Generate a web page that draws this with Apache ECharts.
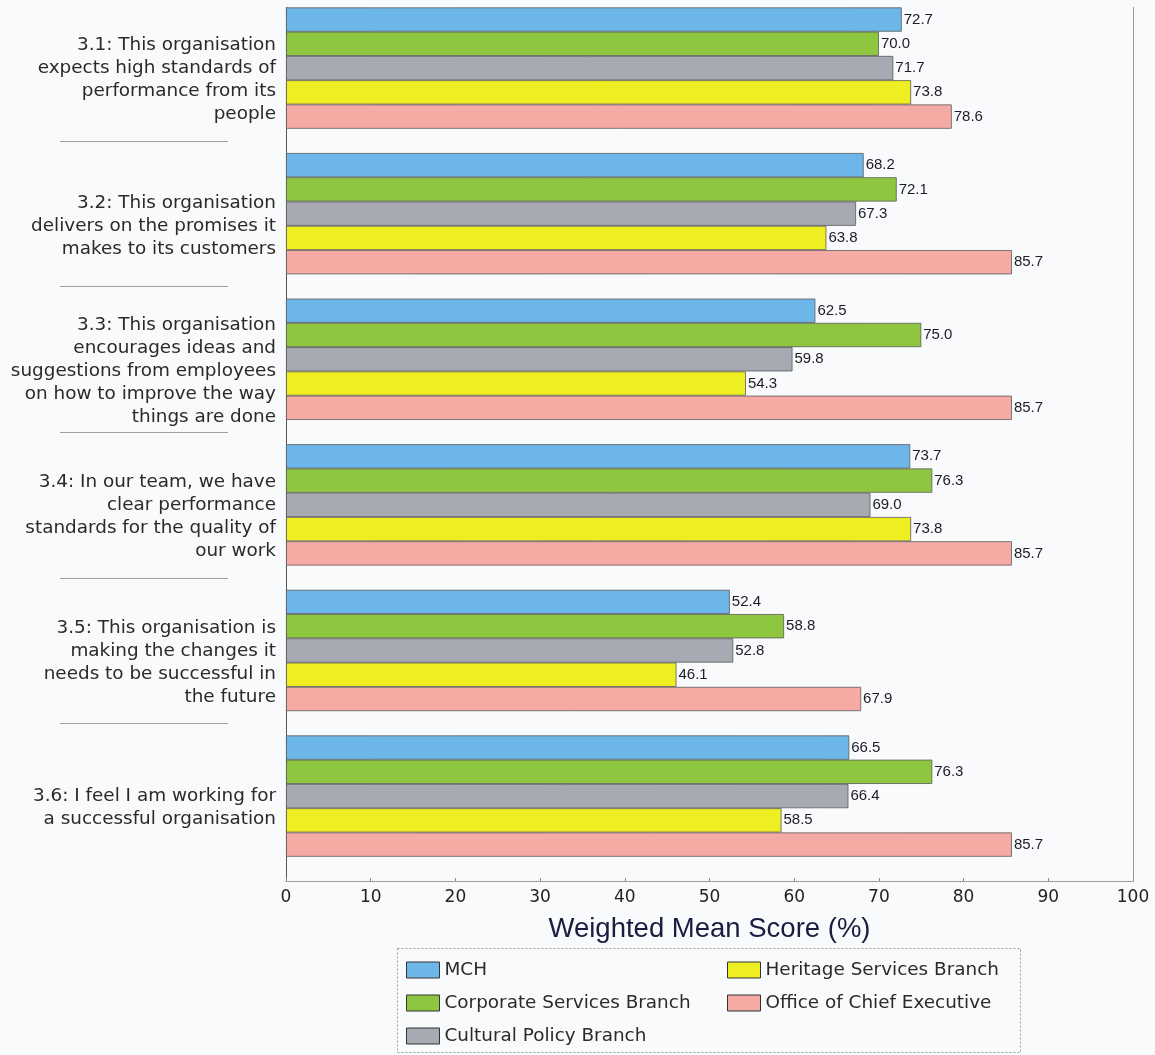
<!DOCTYPE html>
<html><head><meta charset="utf-8">
<script src="https://cdn.jsdelivr.net/npm/echarts@6/dist/echarts.min.js"></script>
<style>html,body{margin:0;padding:0;background:#f8fafb}#c{width:1155px;height:1055px}</style>
</head><body><div id="c"></div>
<script>
const categories = [
  "3.1: This organisation\nexpects high standards of\nperformance from its\npeople",
  "3.2: This organisation\ndelivers on the promises it\nmakes to its customers",
  "3.3: This organisation\nencourages ideas and\nsuggestions from employees\non how to improve the way\nthings are done",
  "3.4: In our team, we have\nclear performance\nstandards for the quality of\nour work",
  "3.5: This organisation is\nmaking the changes it\nneeds to be successful in\nthe future",
  "3.6: I feel I am working for\na successful organisation"
];
const seriesNames = ["MCH", "Corporate Services Branch", "Cultural Policy Branch", "Heritage Services Branch", "Office of Chief Executive"];
const mch       = [72.7, 68.2, 62.5, 73.7, 52.4, 66.5];
const corporate = [70.0, 72.1, 75.0, 76.3, 58.8, 76.3];
const cultural  = [71.7, 67.3, 59.8, 69.0, 52.8, 66.4];
const heritage  = [73.8, 63.8, 54.3, 73.8, 46.1, 58.5];
const office    = [78.6, 85.7, 85.7, 85.7, 67.9, 85.7];
const xTicks = [0, 10, 20, 30, 40, 50, 60, 70, 80, 90, 100];

const colors = ["#6cb6ea", "#8fc640", "#a7aab2", "#eeee22", "#f6aaa4"];
const values = [mch, corporate, cultural, heritage, office];
const FONT = "DejaVu Sans";

const chart = echarts.init(document.getElementById('c'));
const series = values.map((v, i) => ({
  name: seriesNames[i], type: 'bar', data: v,
  barGap: 0, barCategoryGap: 0,
  itemStyle: { color: colors[i], borderColor: '#5a5a5a', borderWidth: 0.8 },
  label: { show: true, position: 'right', distance: 2, formatter: p => p.value.toFixed(1),
           fontFamily: 'Liberation Sans', fontSize: 15, color: '#1c1c28' }
}));
// empty slot to leave the gap below each group
series.push({ name: '_gap', type: 'bar', data: categories.map(() => null), barGap: 0, barCategoryGap: 0, silent: true });

const legendCommon = {
  orient: 'vertical', top: 961, height: 92, padding: 0,
  icon: 'rect', itemWidth: 33, itemHeight: 16, itemGap: 15,
  textStyle: { fontFamily: FONT, fontSize: 18.4, color: '#2a2a2a', lineHeight: 18 },
  itemStyle: { borderColor: '#333', borderWidth: 1 }
};

chart.setOption({
  backgroundColor: '#f8fafb',
  animation: false,
  color: colors,
  grid: { left: 286, right: 22, top: 7.4, bottom: 174, containLabel: false },
  xAxis: {
    type: 'value', min: xTicks[0], max: xTicks[xTicks.length - 1], interval: 10,
    splitLine: { show: false },
    axisLine: { show: true, lineStyle: { color: '#8a8a8a', type: 'dotted', width: 1 } },
    axisTick: { show: true, inside: true, length: 3, lineStyle: { color: '#8a8a8a' } },
    axisLabel: { fontFamily: FONT, fontSize: 17, color: '#222', margin: 8 },
    name: 'Weighted Mean Score (%)', nameLocation: 'middle', nameGap: 34,
    nameTextStyle: { fontFamily: 'Liberation Sans', fontSize: 27.5, color: '#1a1c40', verticalAlign: 'top' }
  },
  yAxis: [{
    type: 'category', data: categories, inverse: true,
    axisLine: { show: true, lineStyle: { color: '#555', width: 1 } },
    axisTick: { show: false },
    axisLabel: { fontFamily: FONT, fontSize: 18.4, color: '#2a2a2a', lineHeight: 23, margin: 10, align: 'right' }
  }, {
    type: 'category', data: categories, inverse: true, position: 'right',
    axisLine: { show: true, lineStyle: { color: '#9a9a9a', width: 1 } },
    axisTick: { show: false }, axisLabel: { show: false }
  }],
  legend: [
    Object.assign({ data: seriesNames.slice(0, 3), left: 406 }, legendCommon),
    Object.assign({ data: seriesNames.slice(3), left: 727 }, legendCommon)
  ],
  series: series
});

// decorative separators between question labels, and legend frame
const band = (chart.convertToPixel({ yAxisIndex: 0 }, 1) - chart.convertToPixel({ yAxisIndex: 0 }, 0));
const graphics = [];
for (let k = 0; k < categories.length - 1; k++) {
  const y = Math.round(chart.convertToPixel({ yAxisIndex: 0 }, k) + band * 5 / 12) + 0.5;
  graphics.push({ type: 'line', shape: { x1: 60, y1: y, x2: 228, y2: y }, style: { stroke: '#a0a0a0', lineWidth: 1 } });
}
graphics.push({ type: 'rect', shape: { x: 397.5, y: 948.5, width: 623, height: 104 },
  style: { fill: 'none', stroke: '#9a9a9a', lineWidth: 1, lineDash: [2, 2] } });
chart.setOption({ graphic: graphics });
</script></body></html>
